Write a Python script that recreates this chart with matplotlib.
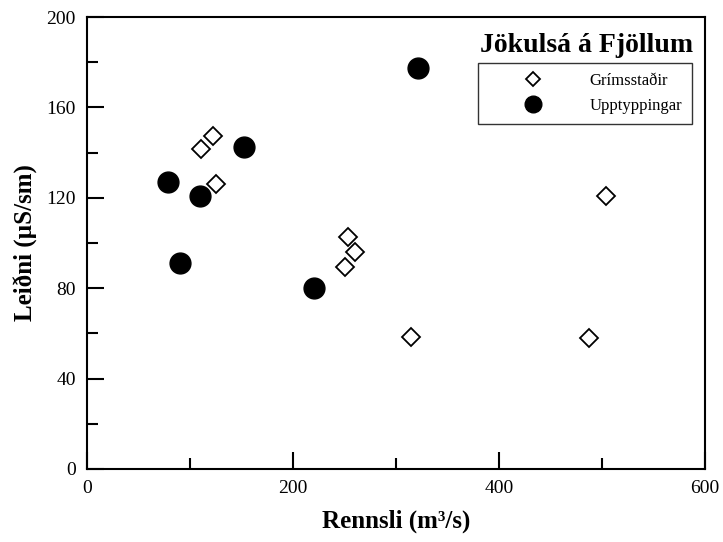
import matplotlib.pyplot as plt
from matplotlib.ticker import MultipleLocator

plt.rcParams['font.family'] = ['Liberation Serif', 'DejaVu Serif']

# Grímsstaðir (diamonds)
grim_q = [110.7, 122.3, 125.2, 253.4, 260.2, 250.5, 314.6, 487.4, 503.9]
grim_c = [141.6, 147.3, 126.1, 102.7, 96.0, 89.4, 58.4, 58.0, 120.8]

# Upptyppingar (filled circles)
upp_q = [78.6, 90.3, 109.7, 152.4, 220.4, 321.4]
upp_c = [127.0, 91.2, 120.8, 142.5, 80.1, 177.4]

fig = plt.figure(figsize=(7.23, 5.42), dpi=100)
ax = fig.add_axes([0.1203, 0.1347, 0.975 - 0.1203, 0.9686 - 0.1347])

ax.plot(grim_q, grim_c, linestyle='none', marker='D', markersize=9.5,
        markerfacecolor='white', markeredgecolor='black', markeredgewidth=1.3,
        label='Grímsstaðir')
ax.plot(upp_q, upp_c, linestyle='none', marker='o', markersize=15,
        color='black', label='Upptyppingar')

ax.set_xlim(0, 600)
ax.set_ylim(0, 200)
ax.xaxis.set_major_locator(MultipleLocator(200))
ax.xaxis.set_minor_locator(MultipleLocator(100))
ax.yaxis.set_major_locator(MultipleLocator(40))
ax.yaxis.set_minor_locator(MultipleLocator(20))
ax.tick_params(which='both', direction='in', top=False, right=False,
               labelsize=14, width=1.5)
ax.tick_params(which='major', length=12, pad=8)
ax.tick_params(which='minor', length=8)
for s in ax.spines.values():
    s.set_linewidth(1.5)

ax.set_xlabel('Rennsli (m³/s)', fontsize=18, fontweight='bold', labelpad=9)
ax.set_ylabel('Leiðni (µS/sm)', fontsize=18, fontweight='bold', labelpad=6)

ax.text(0.981, 0.965, 'Jökulsá á Fjöllum', transform=ax.transAxes,
        ha='right', va='top', fontsize=20, fontweight='bold')
leg = ax.legend(loc='upper right', bbox_to_anchor=(0.979, 0.898), fontsize=12,
                frameon=True, fancybox=False, edgecolor='black',
                borderpad=0.6, borderaxespad=0, handletextpad=0.65,
                markerscale=0.8, handlelength=5.4, labelspacing=0.55)
leg.get_frame().set_linewidth(1.0)

plt.savefig('out.png', dpi=100)
